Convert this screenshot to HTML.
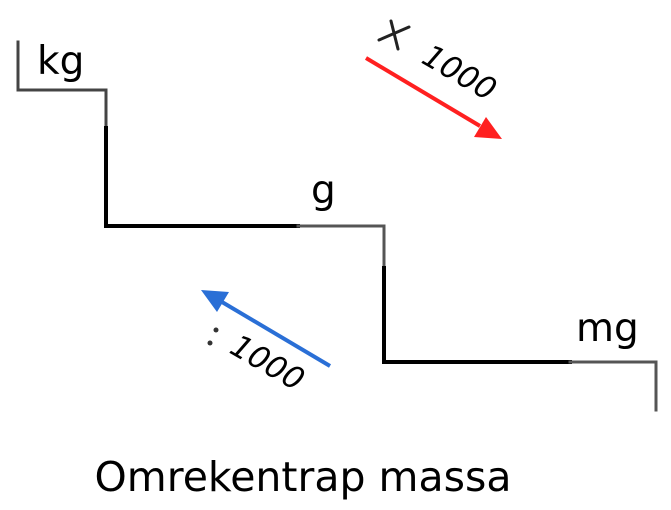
<!DOCTYPE html>
<html><head><meta charset="utf-8"><style>
html,body{margin:0;padding:0;background:#fff;}
svg{display:block;}
text{font-family:"DejaVu Sans","Liberation Sans",sans-serif;}
</style></head><body>
<svg width="671" height="510" viewBox="0 0 671 510">
<g fill="none" stroke-linecap="square" stroke-linejoin="miter">
<polyline points="18,42 18,90 106,90 106,128" stroke="#444" stroke-width="3"/>
<polyline points="106,128 106,226 298,226" stroke="#000" stroke-width="4"/>
<polyline points="298,226 384,226 384,268" stroke="#555" stroke-width="3"/>
<polyline points="384,268 384,362 570,362" stroke="#000" stroke-width="4"/>
<polyline points="570,362 656,362 656,410" stroke="#555" stroke-width="3"/>
</g>
<text x="37" y="74" font-size="39" fill="#000">kg</text>
<text x="311" y="203" font-size="39" fill="#000">g</text>
<text x="576" y="341" font-size="39" fill="#000">mg</text>
<line x1="366" y1="58" x2="480" y2="126" stroke="#ff2020" stroke-width="4"/>
<polygon points="502,139 474,137 486,117" fill="#ff2020"/>
<line x1="330" y1="366" x2="222" y2="302" stroke="#2a6fd6" stroke-width="4"/>
<polygon points="201,290 229,292 217,312" fill="#2a6fd6"/>
<g stroke="#222" stroke-width="3" stroke-linecap="round">
<line x1="379" y1="40" x2="409" y2="27"/>
<line x1="391" y1="21" x2="398" y2="49"/>
</g>
<text x="0" y="0" font-size="31" font-style="italic" transform="translate(420,62) rotate(30)">1000</text>
<circle cx="216" cy="330" r="2.5" fill="#333"/>
<circle cx="210" cy="343" r="2.5" fill="#333"/>
<text x="0" y="0" font-size="31" font-style="italic" transform="translate(228,352) rotate(30)">1000</text>
<text x="303" y="491" font-size="41" text-anchor="middle" fill="#000">Omrekentrap massa</text>
</svg>
</body></html>
